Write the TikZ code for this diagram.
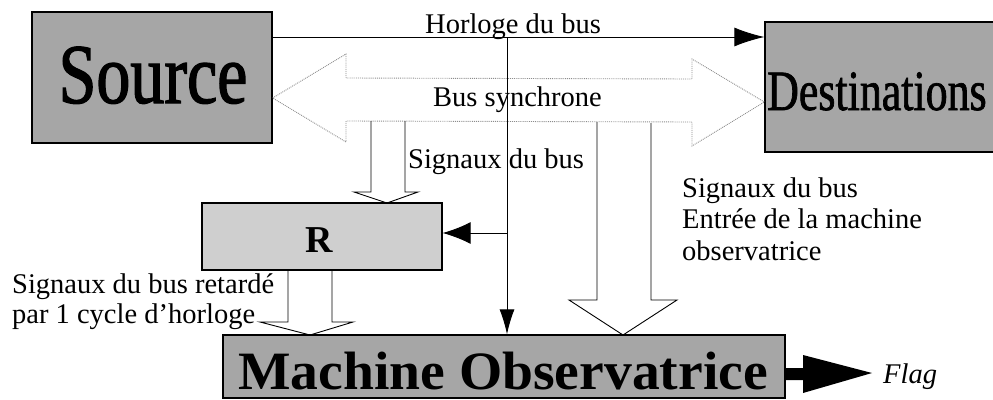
\documentclass[tikz,border=0pt]{standalone}
\usepackage{fontspec}
\setmainfont{Liberation Serif}
\newfontfamily\srcfont[FakeStretch=0.80,FakeBold=1.5]{Liberation Serif}
\newfontfamily\dstfont[FakeStretch=0.77,FakeBold=1.2]{Liberation Serif}
\usetikzlibrary{arrows.meta}

\begin{document}
\begin{tikzpicture}[x=1pt,y=-1pt,
  box/.style={draw=black, line width=1.3pt, inner sep=0pt},
  darkbox/.style={box, fill=black!35},
  lightbox/.style={box, fill=black!19},
  lbl/.style={font=\fontsize{28.5}{32}\selectfont, inner sep=0pt, anchor=base west},
  hollow/.style={draw=black, line width=0.9pt, line join=miter},
  busarrow/.style={draw=black!45, densely dotted, line width=0.9pt},
  wire/.style={draw=black, line width=0.9pt},
]
\useasboundingbox (0,0) rectangle (993,399);
\clip (0,0) rectangle (993,399);

% main blocks
\node[darkbox, minimum width=240pt, minimum height=131pt] (src) at (152,77.5) {};
\node[darkbox, minimum width=240pt, minimum height=130pt] (dst) at (885,87) {};
\node[lightbox, minimum width=240pt, minimum height=67pt] (reg) at (322,236.5) {};
\node[darkbox, minimum width=562pt, minimum height=63pt] (mo) at (504,366.5) {};

% block titles
\node[inner sep=0pt, anchor=base] (srct) at (153,103)
  {\srcfont\fontsize{85}{85}\selectfont Source};
\node[inner sep=0pt, anchor=base west] (dstt) at (767,110)
  {\dstfont\fontsize{57}{57}\selectfont Destinations};
\node[inner sep=0pt, anchor=base] (regt) at (319,252)
  {\fontsize{38}{38}\selectfont\bfseries R};
\node[inner sep=0pt, anchor=base] (mot) at (503,389)
  {\fontsize{54}{54}\selectfont\bfseries\scalebox{1.03}[1]{Machine Observatrice}};

% synchronous bus (double hollow arrow)
\draw[busarrow] (src.east |- 0,98) -- (346,54) -- (346,78) -- (692,79) -- (692,59)
  -- (dst.west |- 0,102) -- (692,146) -- (692,122) -- (346,121) -- (346,142) -- cycle;

% bus clock
\coordinate (hy) at (0,37);
\coordinate (tap) at (507,37);
\coordinate (ry) at (0,233);
\draw[wire, -{Latex[length=30pt,width=19pt]}] (src.east |- hy) -- (dst.west |- hy);
\draw[wire, -{Latex[length=25pt,width=15pt]}] (tap) -- (tap |- mo.north);
\draw[wire, -{Latex[length=28pt,width=22pt]}] (tap |- ry) -- (reg.east |- ry);

% hollow signal arrows
\draw[hollow] (371,121) -- (371,192) -- (354,192) -- (387,203) -- (418,192)
  -- (405,192) -- (405,121);
\draw[hollow] (597,122) -- (597,300) -- (569,300) -- (623,335) -- (677,300)
  -- (651,300) -- (651,123);
\draw[hollow] (288,270) -- (288,322) -- (260,322) -- (310,335) -- (353,322)
  -- (332,322) -- (332,270);

% flag output
\fill[black] (mo.east |- 0,368) -- (803,368) -- (803,355) -- (872,373) -- (803,393)
  -- (803,380) -- (mo.east |- 0,380) -- cycle;

% labels
\node[lbl] (lh) at (425,33) {Horloge du bus};
\node[lbl] (lb) at (433,106) {Bus synchrone};
\node[lbl] (ls) at (408,168) {Signaux du bus};
\node[lbl] (le1) at (682,197) {Signaux du bus};
\node[lbl] (le2) at (682,228) {Entrée de la machine};
\node[lbl] (le3) at (682,260) {observatrice};
\node[lbl] (lr1) at (12,293) {Signaux du bus retardé};
\node[lbl] (lr2) at (12,323) {par 1 cycle d’horloge};
\node[lbl, font=\fontsize{28.5}{32}\selectfont\itshape] (lf) at (883,383) {Flag};
\end{tikzpicture}
\end{document}
